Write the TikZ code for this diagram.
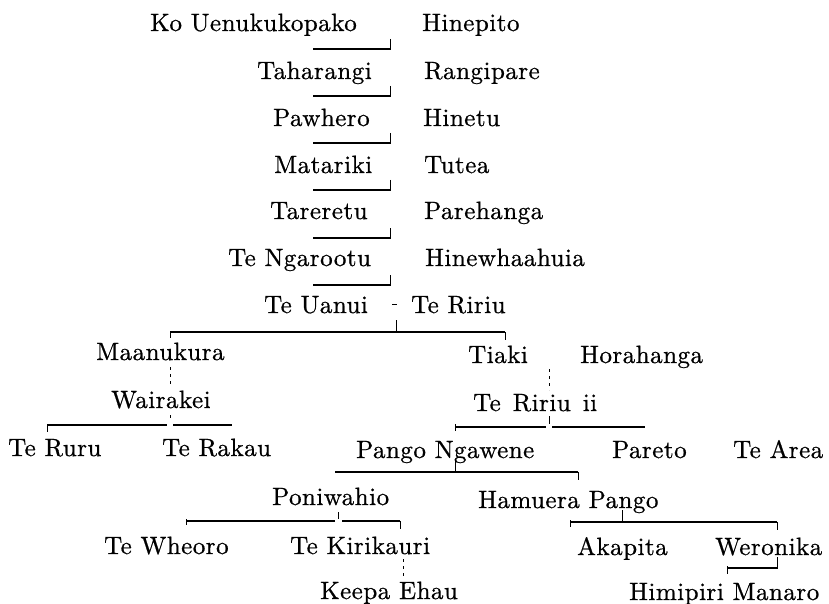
\documentclass[tikz,border=0pt]{standalone}
\usepackage{fontspec}
\setmainfont{lmroman10-regular.otf}[LetterSpace=2,FakeBold=0.7]
\begin{document}
\begin{tikzpicture}[x=1pt,y=-1pt,
  nm/.style={anchor=base west, inner sep=0pt, font=\fontsize{25}{30}\selectfont},
  rule/.style={line width=1.3pt},
  tick/.style={line width=1pt},
  dots/.style={line width=0.8pt, dash pattern=on 3pt off 4pt}]
\useasboundingbox (0,0) rectangle (829,604);
% names
\node[nm] (ko) at (150,31) {Ko Uenukukopako};
\node[nm] (hinepito) at (422,31) {Hinepito};
\node[nm] (taharangi) at (257,79) {Taharangi};
\node[nm] (rangipare) at (424,79) {Rangipare};
\node[nm] (pawhero) at (273,126) {Pawhero};
\node[nm] (hinetu) at (423,126) {Hinetu};
\node[nm] (matariki) at (274,173) {Matariki};
\node[nm] (tutea) at (424,173) {Tutea};
\node[nm] (tareretu) at (270,219) {Tareretu};
\node[nm] (parehanga) at (424,219) {Parehanga};
\node[nm] (ngarootu) at (228,266) {Te Ngarootu};
\node[nm] (hinewhaahuia) at (425,266) {Hinewhaahuia};
\node[nm] (uanui) at (264,313) {Te Uanui};
\node[nm] (teririu) at (411,313) {Te Ririu};
\node[nm] (maanukura) at (96,360) {Maanukura};
\node[nm] (tiaki) at (468,363) {Tiaki};
\node[nm] (horahanga) at (580,363) {Horahanga};
\node[nm] (wairakei) at (111,408) {Wairakei};
\node[nm] (ririutwo) at (473,411) {Te\hspace{12pt}Ririu\hspace{12pt}ii};
\node[nm] (teruru) at (8,456) {Te Ruru};
\node[nm] (terakau) at (162,456) {Te Rakau};
\node[nm] (pango) at (356,458) {Pango Ngawene};
\node[nm] (pareto) at (612,458) {Pareto};
\node[nm] (tearea) at (733,458) {Te Area};
\node[nm] (poniwahio) at (272,505) {Poniwahio};
\node[nm] (hamuera) at (478,508) {Hamuera Pango};
\node[nm] (tewheoro) at (104,554) {Te Wheoro};
\node[nm] (kirikauri) at (290,554) {Te Kirikauri};
\node[nm] (akapita) at (577,555) {Akapita};
\node[nm] (weronika) at (715,555) {Weronika};
\node[nm] (keepa) at (320,599) {Keepa Ehau};
\node[nm] (himipiri) at (629,600) {Himipiri Manaro};
% descent lines of the single line
\foreach \y in {49,96,143,190,238,285}{
  \draw[rule] (313,\y) -- (390,\y);
  \draw[tick] (390,\y-10) -- (390,\y+1);
}
% Te Uanui - Te Ririu
\draw[tick] (392,304) -- (397,304);
\coordinate (ua) at (396,332);
\draw[rule] (170,332) -- (ua) -- (505,332);
\draw[tick] (396,320) -- (ua);
\draw[tick] (170,332) -- (170,338);
\draw[tick] (505,332) -- (505,340);
% Maanukura - Wairakei
\draw[dots] (170,367) -- (170,385);
% Tiaki - Te Ririu ii
\draw[dots] (549,369) -- (549,390);
% Wairakei children
\draw[rule] (47,425) -- (167,425);
\draw[rule] (173,425) -- (232,425);
\draw[tick] (170,415) -- (170,418);
\draw[tick] (47,425) -- (47,432);
% Te Ririu ii children
\draw[rule] (455,427) -- (546,427);
\draw[rule] (552,427) -- (645,427);
\draw[tick] (549,416) -- (549,424);
\draw[tick] (455,424) -- (455,431);
% Pango Ngawene children
\draw[rule] (335,472) -- (578,472);
\draw[tick] (455,460) -- (455,472);
\draw[tick] (578,472) -- (578,480);
% Poniwahio children
\draw[rule] (186,521) -- (335,521);
\draw[rule] (342,521) -- (400,521);
\draw[tick] (338,512) -- (338,519);
\draw[tick] (186,519) -- (186,525);
\draw[tick] (400,521) -- (400,529);
% Te Kirikauri - Keepa Ehau
\draw[dots] (403,559) -- (403,579);
% Hamuera Pango children
\draw[rule] (570,522) -- (777,522);
\draw[tick] (622,510) -- (622,522);
\draw[tick] (570,520) -- (570,527);
\draw[tick] (777,522) -- (777,530);
% Weronika - Himipiri Manaro
\draw[rule] (727,568) -- (777,568);
\draw[tick] (777,557) -- (777,569);
\draw[tick] (727,566) -- (727,574);
\end{tikzpicture}
\end{document}
